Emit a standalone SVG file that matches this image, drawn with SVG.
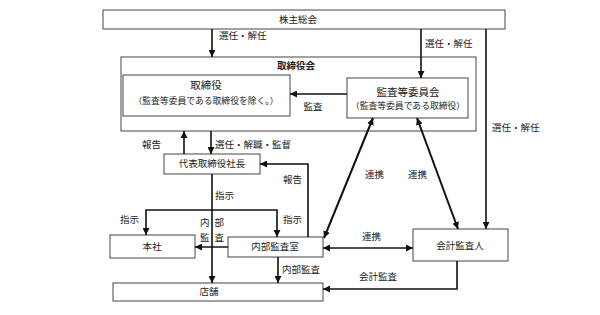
<svg xmlns="http://www.w3.org/2000/svg" width="600" height="315" viewBox="0 0 600 315">
<style>
.box{fill:#fff;stroke:#444;stroke-width:1}
.t{font-family:"Noto Sans CJK JP","Noto Sans",sans-serif;font-size:9.5px;fill:#1a1a1a}
.s{font-size:8.8px}
.l{font-size:10.5px}
.c{text-anchor:middle}
.b{font-weight:bold}
.ln{fill:none;stroke:#111;stroke-width:1.6}
.thick{stroke-width:2}
.a{marker-end:url(#ah)}
.d{marker-start:url(#ahs);marker-end:url(#ah)}
</style>
<defs>
<marker id="ah" viewBox="0 0 10 10" refX="10" refY="5" markerWidth="7" markerHeight="7" markerUnits="userSpaceOnUse" orient="auto"><path d="M0,0L10,5L0,10z" fill="#111"/></marker>
<marker id="ahs" viewBox="0 0 10 10" refX="10" refY="5" markerWidth="7" markerHeight="7" markerUnits="userSpaceOnUse" orient="auto-start-reverse"><path d="M0,0L10,5L0,10z" fill="#111"/></marker>
</defs>
<rect width="600" height="315" fill="#fff"/>
<g id="shareholders"><rect class="box" x="103" y="10" width="402" height="19"/><text class="t c" x="298" y="23">株主総会</text></g>
<g id="board"><rect class="box" x="121" y="57" width="355" height="74"/><text class="t c b" x="296" y="69">取締役会</text></g>
<g id="directors"><rect class="box" x="123" y="75" width="167" height="41"/><text class="t l c" x="206" y="89">取締役</text><text class="t s c" x="206" y="104">（監査等委員である取締役を除く。）</text></g>
<g id="audit-committee"><rect class="box" x="347" y="78" width="121" height="40"/><text class="t l c" x="408" y="96">監査等委員会</text><text class="t s c" x="408" y="109">（監査等委員である取締役）</text></g>
<g id="president"><rect class="box" x="164" y="154" width="96" height="20"/><text class="t c" x="212" y="167">代表取締役社長</text></g>
<g id="headoffice"><rect class="box" x="110" y="235" width="85" height="23"/><text class="t c" x="152" y="250">本社</text></g>
<g id="internal-audit"><rect class="box" x="228" y="237" width="95" height="20"/><text class="t c" x="275" y="250">内部監査室</text></g>
<g id="stores"><rect class="box" x="113" y="283" width="210" height="18"/><text class="t c" x="209" y="295">店舗</text></g>
<g id="accounting-auditor"><rect class="box" x="413" y="229" width="95" height="32"/><text class="t c" x="460" y="249">会計監査人</text></g>
<g id="connectors">
<path class="ln a" d="M212,29V57"/>
<path class="ln a" d="M421,29V78"/>
<path class="ln a" d="M486,29V229"/>
<path class="ln a" d="M347,94H290"/>
<path class="ln a" d="M184,154V131"/>
<path class="ln a" d="M211,131V154"/>
<path class="ln a" d="M308,237V164H260"/>
<path class="ln a" d="M212,174V283"/>
<path class="ln a" d="M212,210H146V235"/>
<path class="ln a" d="M212,210H277V237"/>
<path class="ln a" d="M228,247H195"/>
<path class="ln a" d="M278,257V283"/>
<path class="ln d" d="M323,248H413"/>
<path class="ln a" d="M457,261V289H323"/>
<path class="ln thick d" d="M373,118L324,238"/>
<path class="ln thick d" d="M417,118L458,229"/>
</g>
<g id="labels">
<text class="t" x="219" y="39">選任・解任</text>
<text class="t" x="425" y="47">選任・解任</text>
<text class="t" x="492" y="131">選任・解任</text>
<text class="t c" x="313" y="110">監査</text>
<text class="t" x="142" y="148">報告</text>
<text class="t" x="215" y="148">選任・解職・監督</text>
<text class="t" x="283" y="183">報告</text>
<text class="t" x="215" y="199">指示</text>
<text class="t" x="120" y="223">指示</text>
<text class="t" x="283" y="223">指示</text>
<text class="t" x="200" y="226" letter-spacing="5">内部</text>
<text class="t" x="200" y="241" letter-spacing="5">監査</text>
<text class="t" x="282" y="273">内部監査</text>
<text class="t" x="365" y="178">連携</text>
<text class="t" x="408" y="178">連携</text>
<text class="t" x="362" y="240">連携</text>
<text class="t" x="359" y="280">会計監査</text>
</g>
</svg>
